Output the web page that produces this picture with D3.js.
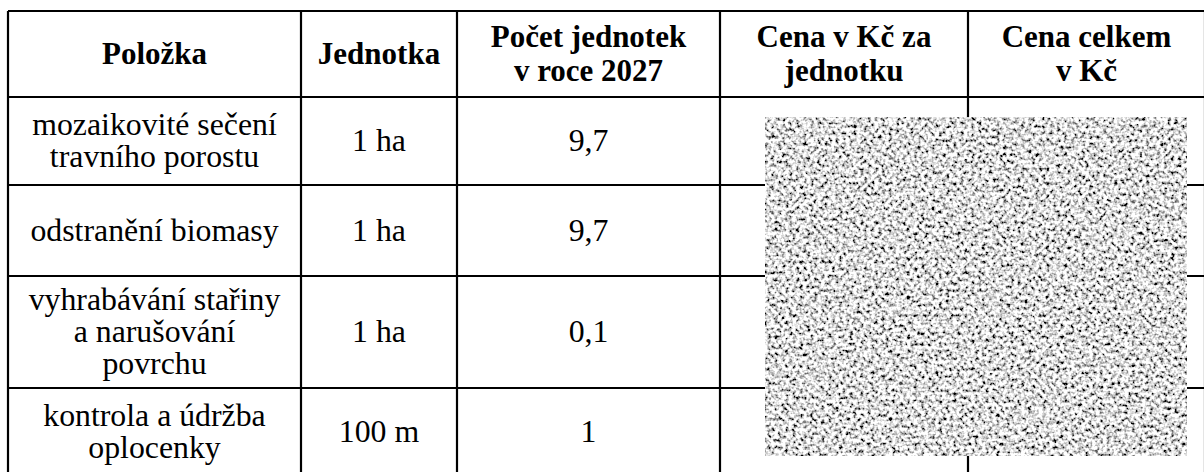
<!DOCTYPE html>
<html>
<head>
<meta charset="utf-8">
<title>Tabulka</title>
<style>
	body { margin: 0; background: #fff; }
</style>
</head>
<body>
<script src="https://cdn.jsdelivr.net/npm/d3@7"></script>
<script>
	// table content
	var headers = [["Položka"], ["Jednotka"], ["Počet jednotek", "v roce 2027"], ["Cena v Kč za", "jednotku"], ["Cena celkem", "v Kč"]];
	var items = [["mozaikovité sečení", "travního porostu"], ["odstranění biomasy"], ["vyhrabávání stařiny", "a narušování", "povrchu"], ["kontrola a údržba", "oplocenky"]];
	var units = ["1 ha", "1 ha", "1 ha", "100 m"];
	var counts = ["9,7", "9,7", "0,1", "1"];

	// layout
	var W = 1204, H = 472;
	var colEdges = [8, 301, 457, 720, 968, 1205];
	var rowEdges = [11, 97, 185, 276, 388, 476];
	var headSize = 31, bodySize = 31.8;
	var headLine = 34, bodyLine = 32;

	var svg = d3.select("body").append("svg")
		.attr("width", W)
		.attr("height", H);

	var colMid = function(i) { return (colEdges[i] + colEdges[i + 1]) / 2; };
	var rowMid = function(i) { return (rowEdges[i] + rowEdges[i + 1]) / 2; };

	// grid lines
	var grid = svg.append("g").attr("stroke", "#000").attr("stroke-width", 2.2);
	grid.selectAll(".h").data(rowEdges).enter().append("line")
		.attr("x1", colEdges[0]).attr("x2", colEdges[colEdges.length - 1])
		.attr("y1", function(d) { return d; }).attr("y2", function(d) { return d; });
	grid.selectAll(".v").data(colEdges).enter().append("line")
		.attr("y1", rowEdges[0]).attr("y2", rowEdges[rowEdges.length - 1])
		.attr("x1", function(d) { return d; }).attr("x2", function(d) { return d; });

	function cellText(lines, cx, cy, lh, bold) {
		var n = lines.length;
		var t = svg.append("text")
			.attr("text-anchor", "middle")
			.style("font-family", "Liberation Serif")
			.attr("font-size", bold ? headSize : bodySize)
			.attr("fill", "#000")
			.attr("font-weight", bold ? "bold" : "normal");
		lines.forEach(function(s, k) {
			t.append("tspan")
				.attr("x", cx)
				.attr("y", cy + (k - (n - 1) / 2) * lh)
				.attr("dy", "0.33em")
				.text(s);
		});
	}

	headers.forEach(function(h, i) {
		cellText(h, colMid(i), rowMid(0), headLine, true);
	});
	items.forEach(function(it, r) {
		cellText(it, colMid(0), rowMid(r + 1), bodyLine, false);
		cellText([units[r]], colMid(1), rowMid(r + 1), bodyLine, false);
		cellText([counts[r]], colMid(2), rowMid(r + 1), bodyLine, false);
	});

	// redaction patch (noise texture)
	var patch = {x: 765, y: 117, w: 422, h: 339};
	var defs = svg.append("defs");
	var f = defs.append("filter")
		.attr("id", "noise")
		.attr("filterUnits", "userSpaceOnUse")
		.attr("x", patch.x).attr("y", patch.y)
		.attr("width", patch.w).attr("height", patch.h);
	f.append("feTurbulence")
		.attr("type", "fractalNoise")
		.attr("baseFrequency", 0.28)
		.attr("numOctaves", 2)
		.attr("seed", 7)
		.attr("result", "t");
	f.append("feColorMatrix")
		.attr("in", "t")
		.attr("type", "matrix")
		.attr("values", "3.0 0 0 0 -0.78  3.0 0 0 0 -0.78  3.0 0 0 0 -0.78  0 0 0 0 1");
	svg.append("rect")
		.attr("x", patch.x).attr("y", patch.y)
		.attr("width", patch.w).attr("height", patch.h)
		.attr("fill", "#fff")
		.attr("filter", "url(#noise)");
</script>
</body>
</html>
